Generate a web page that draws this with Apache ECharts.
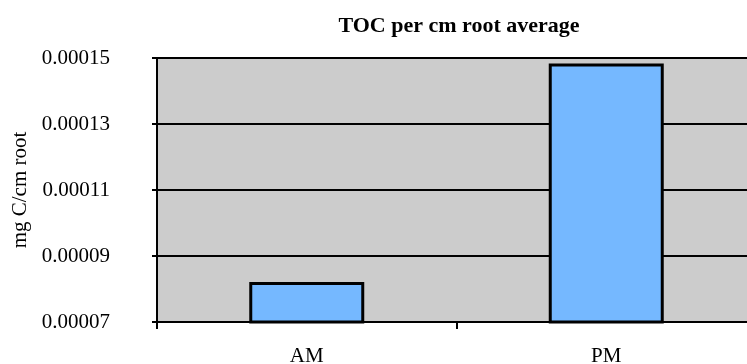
<!DOCTYPE html>
<html>
<head>
<meta charset="utf-8">
<script src="https://cdn.jsdelivr.net/npm/echarts@6/dist/echarts.min.js"></script>
<style>
  html, body { margin: 0; padding: 0; background: #ffffff; }
  #chart { width: 747px; height: 364px; }
</style>
</head>
<body>
<div id="chart"></div>
<script>
// Average total organic carbon per cm of root, morning vs afternoon
const categories = ['AM', 'PM'];
const tocValues = [0.0000821, 0.0001483];
const yTicks = [0.00007, 0.00009, 0.00011, 0.00013, 0.00015];

const serif = '"Liberation Serif", "Times New Roman", serif';
const chart = echarts.init(document.getElementById('chart'));

chart.setOption({
  animation: false,
  title: {
    text: 'TOC per cm root average',
    left: 454,
    textAlign: 'center',
    top: 10,
    textStyle: { fontFamily: serif, fontSize: 22, fontWeight: 'bold', color: '#000' }
  },
  grid: {
    left: 157, top: 58, right: -9, bottom: 42,
    outerBoundsMode: 'none',
    backgroundColor: '#cccccc', show: true, borderWidth: 0
  },
  xAxis: {
    type: 'category',
    data: categories,
    axisLine: { lineStyle: { color: '#000', width: 2 } },
    axisTick: { show: true, length: 7, lineStyle: { color: '#000', width: 2 } },
    axisLabel: { fontFamily: serif, fontSize: 21, color: '#000', margin: 24 }
  },
  yAxis: {
    type: 'value',
    min: yTicks[0],
    max: yTicks[yTicks.length - 1],
    interval: 0.00002,
    name: 'mg C/cm root',
    nameLocation: 'middle',
    nameGap: 121,
    nameTextStyle: { fontFamily: serif, fontSize: 21, color: '#000' },
    axisLine: { show: true, lineStyle: { color: '#000', width: 2 } },
    axisTick: { show: true, length: 5, lineStyle: { color: '#000', width: 2 } },
    splitLine: { lineStyle: { color: '#000', width: 2 } },
    axisLabel: {
      fontFamily: serif, fontSize: 21, color: '#000', margin: 47,
      formatter: v => v.toFixed(5)
    }
  },
  series: [{
    type: 'bar',
    data: tocValues,
    barWidth: 115,
    itemStyle: { color: '#75b8ff', borderColor: '#000', borderWidth: 3 }
  }]
});
</script>
</body>
</html>
